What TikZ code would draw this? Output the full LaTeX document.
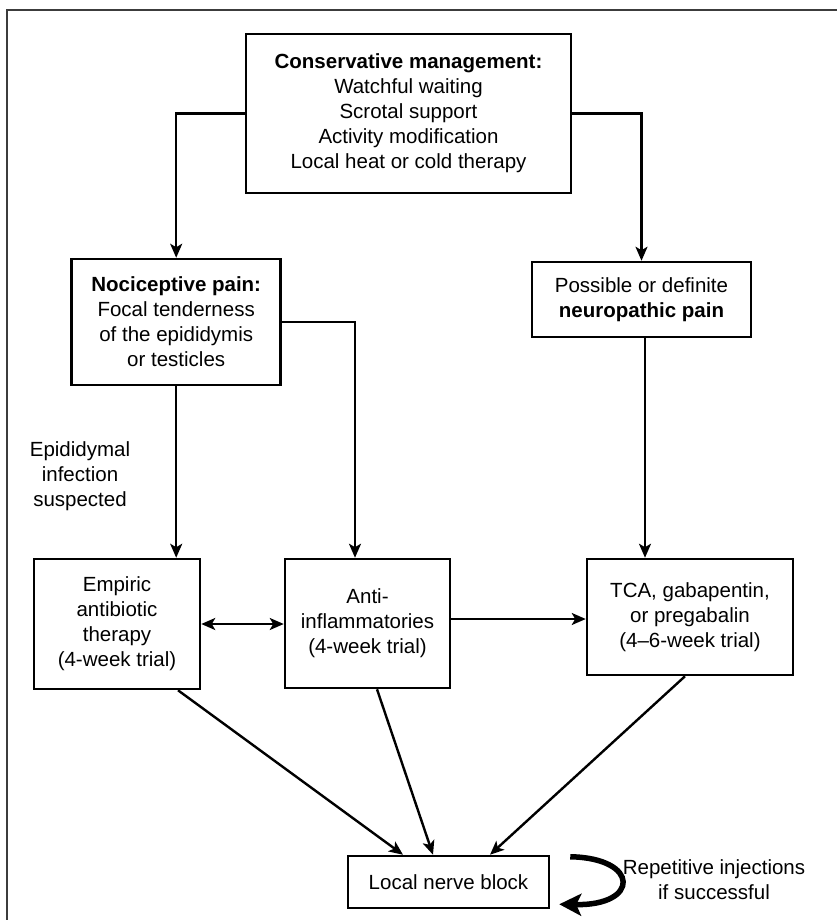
\documentclass[tikz,border=0pt]{standalone}
\usepackage{fontspec}
\setmainfont{Liberation Sans}
\usetikzlibrary{arrows.meta,calc}
\definecolor{framegray}{HTML}{3C3C3C}
\tikzset{
  box/.style={draw, line width=2.5pt, align=center, inner sep=0pt, font=\fontsize{20.5}{25}\selectfont},
  conn/.style={line width=2.4pt},
  arr/.style={conn, -{Stealth[length=14pt,width=12pt,inset=3.5pt]}},
  dblarr/.style={conn, {Stealth[length=14pt,width=12pt,inset=3.5pt]}-{Stealth[length=14pt,width=12pt,inset=3.5pt]}},
  lbl/.style={align=center, inner sep=0pt, font=\fontsize{20.5}{25}\selectfont},
}
\begin{document}
\begin{tikzpicture}[x=1pt,y=-1pt]
\useasboundingbox (0,0) rectangle (837,920);
\draw[line width=2pt, framegray] (845,10) -| (6.5,930);

\node[box, minimum width=325, minimum height=159] (top) at (408.5,113.5)
  {\textbf{Conservative management:}\\Watchful waiting\\Scrotal support\\Activity modification\\Local heat or cold therapy};
\node[box, minimum width=209, minimum height=126] (noci) at (176.2,322)
  {\textbf{Nociceptive pain:}\\Focal tenderness\\of the epididymis\\or testicles};
\node[box, minimum width=219, minimum height=75] (neuro) at (641.5,299.5)
  {Possible or definite\\\textbf{neuropathic pain}};
\node[box, minimum width=166, minimum height=130] (emp) at (117,624)
  {Empiric\\antibiotic\\therapy\\(4-week trial)};
\node[box, minimum width=165, minimum height=129] (anti) at (367.5,623.5)
  {Anti-\\inflammatories\\(4-week trial)};
\node[box, minimum width=206, minimum height=116] (tca) at (690,617)
  {TCA, gabapentin,\\or pregabalin\\(4--6-week trial)};
\node[box, minimum width=201, minimum height=52] (local) at (448.5,882)
  {Local nerve block};

\node[lbl] (epi) at (80,476) {Epididymal\\infection\\suspected};
\node[lbl] (rep) at (714,880) {Repetitive injections\\if successful};

\draw[arr] (top.west) -| (noci.north);
\draw[arr] (top.east) -| (neuro.north);
\draw[arr] (noci.south) -- (noci.south |- emp.north);
\coordinate (k) at (355,322);
\draw[arr] (noci.east) -- (k) -- (k |- anti.north);
\draw[arr] ([xshift=3.5pt]neuro.south) -- ([xshift=3.5pt]neuro.south |- tca.north);
\draw[dblarr] (emp.east) -- (emp.east -| anti.west);
\draw[arr] ([yshift=4.5pt]anti.east) -- ([yshift=4.5pt]anti.east -| tca.west);
\draw[arr] ([xshift=61pt]emp.south) -- ([xshift=-45.5pt]local.north);
\draw[arr] ([xshift=9.5pt]anti.south) -- ([xshift=-15.5pt]local.north);
\draw[arr] ([xshift=-5pt]tca.south) -- ([xshift=41.5pt]local.north);

\coordinate (c1) at (640,858);
\coordinate (c2) at (640,906);
\draw[line width=5.5pt, -{Stealth[length=22pt,width=22pt,inset=5pt]}]
  ([xshift=20pt,yshift=-2pt]local.north east) .. controls (c1) and (c2) .. ([xshift=9pt,yshift=5pt]local.south east);
\end{tikzpicture}
\end{document}
